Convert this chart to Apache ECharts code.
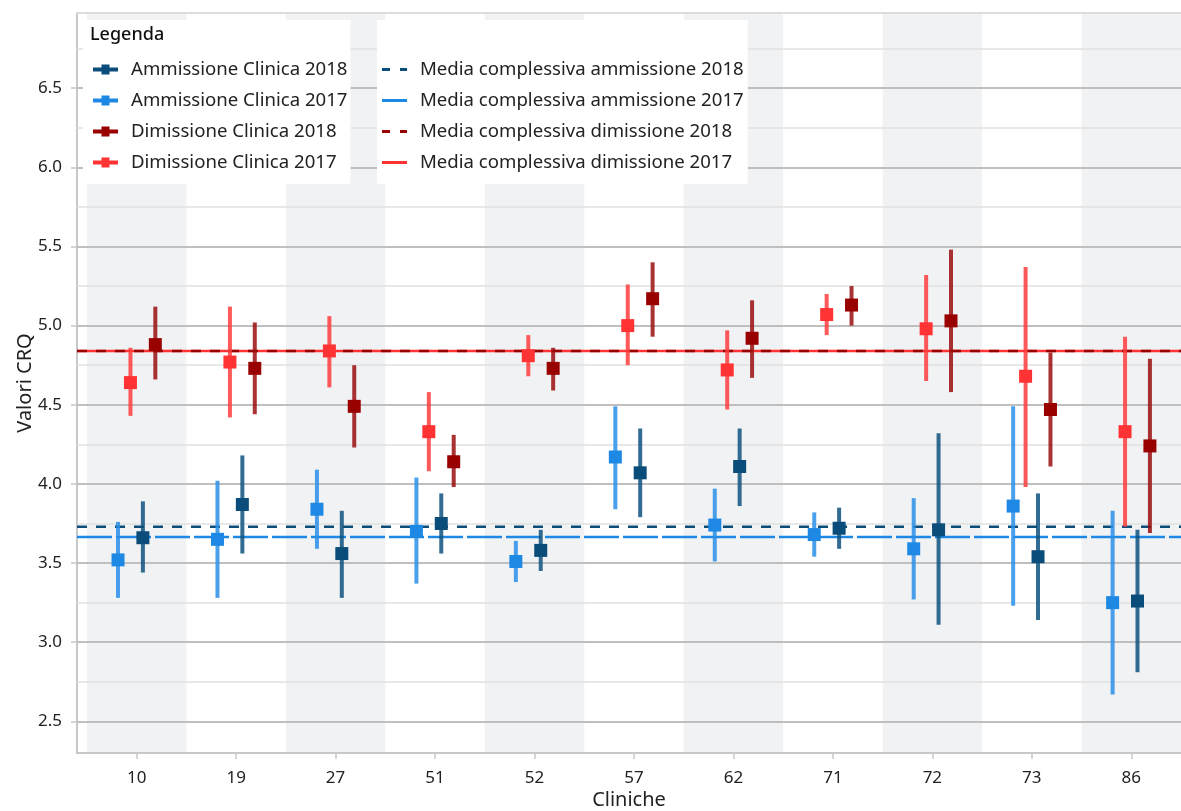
<!DOCTYPE html>
<html>
<head>
<meta charset="utf-8">
<script src="https://cdn.jsdelivr.net/npm/echarts@6/dist/echarts.min.js"></script>
<style>
  html, body { margin: 0; padding: 0; background: #fff; }
  #chart { width: 1181px; height: 811px; }
</style>
</head>
<body>
<div id="chart"></div>
<script>
// categories (clinics) and y tick labels
const cliniche = ['10', '19', '27', '51', '52', '57', '62', '71', '72', '73', '86'];
const yTicks = [2.5, 3.0, 3.5, 4.0, 4.5, 5.0, 5.5, 6.0, 6.5];

// Ammissione 2017
const amm2017 = [3.52, 3.65, 3.84, 3.70, 3.51, 4.17, 3.74, 3.68, 3.59, 3.86, 3.25];
const amm2017Lo = [3.28, 3.28, 3.59, 3.37, 3.38, 3.84, 3.51, 3.54, 3.27, 3.23, 2.67];
const amm2017Hi = [3.76, 4.02, 4.09, 4.04, 3.64, 4.49, 3.97, 3.82, 3.91, 4.49, 3.83];
// Ammissione 2018
const amm2018 = [3.66, 3.87, 3.56, 3.75, 3.58, 4.07, 4.11, 3.72, 3.71, 3.54, 3.26];
const amm2018Lo = [3.44, 3.56, 3.28, 3.56, 3.45, 3.79, 3.86, 3.59, 3.11, 3.14, 2.81];
const amm2018Hi = [3.89, 4.18, 3.83, 3.94, 3.71, 4.35, 4.35, 3.85, 4.32, 3.94, 3.71];
// Dimissione 2017
const dim2017 = [4.64, 4.77, 4.84, 4.33, 4.81, 5.00, 4.72, 5.07, 4.98, 4.68, 4.33];
const dim2017Lo = [4.43, 4.42, 4.61, 4.08, 4.68, 4.75, 4.47, 4.94, 4.65, 3.98, 3.73];
const dim2017Hi = [4.86, 5.12, 5.06, 4.58, 4.94, 5.26, 4.97, 5.20, 5.32, 5.37, 4.93];
// Dimissione 2018
const dim2018 = [4.88, 4.73, 4.49, 4.14, 4.73, 5.17, 4.92, 5.13, 5.03, 4.47, 4.24];
const dim2018Lo = [4.66, 4.44, 4.23, 3.98, 4.59, 4.93, 4.67, 5.00, 4.58, 4.11, 3.69];
const dim2018Hi = [5.12, 5.02, 4.75, 4.31, 4.86, 5.40, 5.16, 5.25, 5.48, 4.83, 4.79];

// overall means
const mediaAmm2018 = 3.73;
const mediaAmm2017 = 3.665;
const mediaDim2018 = 4.84;
const mediaDim2017 = 4.84;

const FONT = '"Noto Sans", sans-serif';
const X_MIN = -0.6, X_MAX = 10.5;

const chart = echarts.init(document.getElementById('chart'), null, { renderer: 'canvas' });

// point + error bar series for one group
function gruppo(name, vals, lo, hi, offset, color, barColor) {
  const pts = vals.map((v, i) => [i + offset, v]);
  const bars = vals.map((v, i) => [i + offset, lo[i], hi[i]]);
  return [
    {
      name: name + ' err',
      type: 'custom',
      z: 3,
      silent: true,
      data: bars,
      encode: { x: 0, y: [1, 2] },
      renderItem: function (params, api) {
        const x = api.value(0);
        const top = api.coord([x, api.value(2)]);
        const bot = api.coord([x, api.value(1)]);
        return {
          type: 'rect',
          shape: { x: top[0] - 2, y: top[1], width: 4, height: bot[1] - top[1] },
          style: { fill: barColor, opacity: 0.85 }
        };
      }
    },
    {
      name: name,
      type: 'scatter',
      z: 4,
      symbol: 'rect',
      symbolSize: 13,
      itemStyle: { color: color, opacity: 1 },
      data: pts
    }
  ];
}

function media(name, val, color, type) {
  return {
    name: name,
    type: 'line',
    z: 2,
    symbol: 'none',
    silent: true,
    itemStyle: { color: color },
    lineStyle: { color: color, width: 2.5, type: type },
    data: [[X_MIN, val], [X_MAX, val]]
  };
}

// shaded bands on every other clinic
const bande = cliniche
  .map((c, i) => i)
  .filter(i => i % 2 === 0)
  .map(i => [{ xAxis: i - 0.5 }, { xAxis: i + 0.5 }]);

// grid lines: major on ticks, minor between
const minori = yTicks.map(t => t + 0.25);
const righe = []
  .concat(minori.map(v => ({ yAxis: v, lineStyle: { color: '#e0e0e0', width: 1.5, type: 'solid' } })))
  .concat(yTicks.map(v => ({ yAxis: v, lineStyle: { color: '#bfbfbf', width: 2, type: 'solid' } })));

const iconPunto = 'path://M0,3H8.5V0H16.5V3H25V7H16.5V10H8.5V7H0Z';
const iconTratteggio = 'path://M0,0H8V3H0ZM18,0H25V3H18Z';
const iconLinea = 'path://M0,0H25V3H0Z';

const nomiPunti = ['Ammissione Clinica 2018', 'Ammissione Clinica 2017', 'Dimissione Clinica 2018', 'Dimissione Clinica 2017'];
const nomiMedie = ['Media complessiva ammissione 2018', 'Media complessiva ammissione 2017', 'Media complessiva dimissione 2018', 'Media complessiva dimissione 2017'];

const legendaBase = {
  orient: 'vertical',
  top: 20,
  backgroundColor: '#fff',
  itemWidth: 25,
  itemHeight: 10,
  itemGap: 12,
  selectedMode: false,
  textStyle: { fontFamily: FONT, fontSize: 18.6, lineHeight: 18, color: '#222', padding: [0, 0, 0, 8] }
};

const option = {
  animation: false,
  backgroundColor: '#fff',
  textStyle: { fontFamily: FONT },
  grid: { left: 77, right: 0, top: 13, bottom: 58, containLabel: false, outerBoundsMode: 'none' },
  graphic: [{
    type: 'text', left: 90, top: 26, z: 100,
    style: { text: 'Legenda', font: '500 18px "Noto Sans", sans-serif', fill: '#111' }
  }],
  legend: [
    Object.assign({}, legendaBase, {
      left: 83,
      padding: [40, 3, 12, 10],
      data: nomiPunti.map(n => ({ name: n, icon: iconPunto }))
    }),
    Object.assign({}, legendaBase, {
      left: 377,
      padding: [40, 4, 12, 5],
      data: nomiMedie.map((n, i) => ({ name: n, icon: i % 2 === 0 ? iconTratteggio : iconLinea }))
    })
  ],
  xAxis: [
    {
      type: 'value',
      min: X_MIN,
      max: X_MAX,
      name: 'Cliniche',
      nameLocation: 'middle',
      nameGap: 37,
      nameMoveOverlap: false,
      nameTextStyle: { fontFamily: FONT, fontSize: 20, color: '#222' },
      axisLine: { show: true, onZero: false, lineStyle: { color: '#c8c8c8', width: 2 } },
      axisTick: { show: true, length: 6, lineStyle: { color: '#c8c8c8', width: 1.5 }, customValues: cliniche.map((c, i) => i) },
      axisLabel: {
        customValues: cliniche.map((c, i) => i),
        formatter: v => cliniche[Math.round(v)],
        fontFamily: FONT, fontSize: 17, color: '#222', margin: 17
      },
      splitLine: { show: false }
    },
    {
      type: 'value',
      position: 'top',
      min: X_MIN,
      max: X_MAX,
      axisLine: { show: true, onZero: false, lineStyle: { color: '#dcdcdc', width: 2 } },
      axisTick: { show: false },
      axisLabel: { show: false },
      splitLine: { show: false }
    }
  ],
  yAxis: {
    type: 'value',
    min: 2.3,
    max: 6.975,
    name: 'Valori CRQ',
    nameLocation: 'middle',
    nameGap: 42,
    nameMoveOverlap: false,
    nameTextStyle: { fontFamily: FONT, fontSize: 20, color: '#222' },
    axisLine: { show: true, onZero: false, lineStyle: { color: '#c8c8c8', width: 2 } },
    axisTick: { show: true, length: 6, lineStyle: { color: '#c8c8c8', width: 1.5 }, customValues: yTicks },
    axisLabel: {
      customValues: yTicks,
      formatter: v => v.toFixed(1),
      fontFamily: FONT, fontSize: 17, color: '#222', margin: 15
    },
    splitLine: { show: false }
  },
  series: [
    {
      name: 'sfondo',
      type: 'line',
      data: [],
      z: 0,
      silent: true,
      markArea: { silent: true, z: 0, itemStyle: { color: '#f1f2f4' }, data: bande },
      markLine: { silent: true, z: 1, symbol: ['none', 'none'], label: { show: false }, data: righe }
    },
    media(nomiMedie[1], mediaAmm2017, '#1e88e5', [35, 4]),
    media(nomiMedie[0], mediaAmm2018, '#0b4d7a', [10, 9]),
    media(nomiMedie[3], mediaDim2017, '#ff3333', 'solid'),
    media(nomiMedie[2], mediaDim2018, '#990000', [10, 9])
  ]
    .concat(gruppo(nomiPunti[1], amm2017, amm2017Lo, amm2017Hi, -0.1875, '#1e88e5', '#2a8fe8'))
    .concat(gruppo(nomiPunti[3], dim2017, dim2017Lo, dim2017Hi, -0.0625, '#ff3333', '#ff3d3d'))
    .concat(gruppo(nomiPunti[0], amm2018, amm2018Lo, amm2018Hi, 0.0625, '#0b4d7a', '#0f527f'))
    .concat(gruppo(nomiPunti[2], dim2018, dim2018Lo, dim2018Hi, 0.1875, '#990000', '#9a0f0f'))
};

chart.setOption(option);
</script>
</body>
</html>
